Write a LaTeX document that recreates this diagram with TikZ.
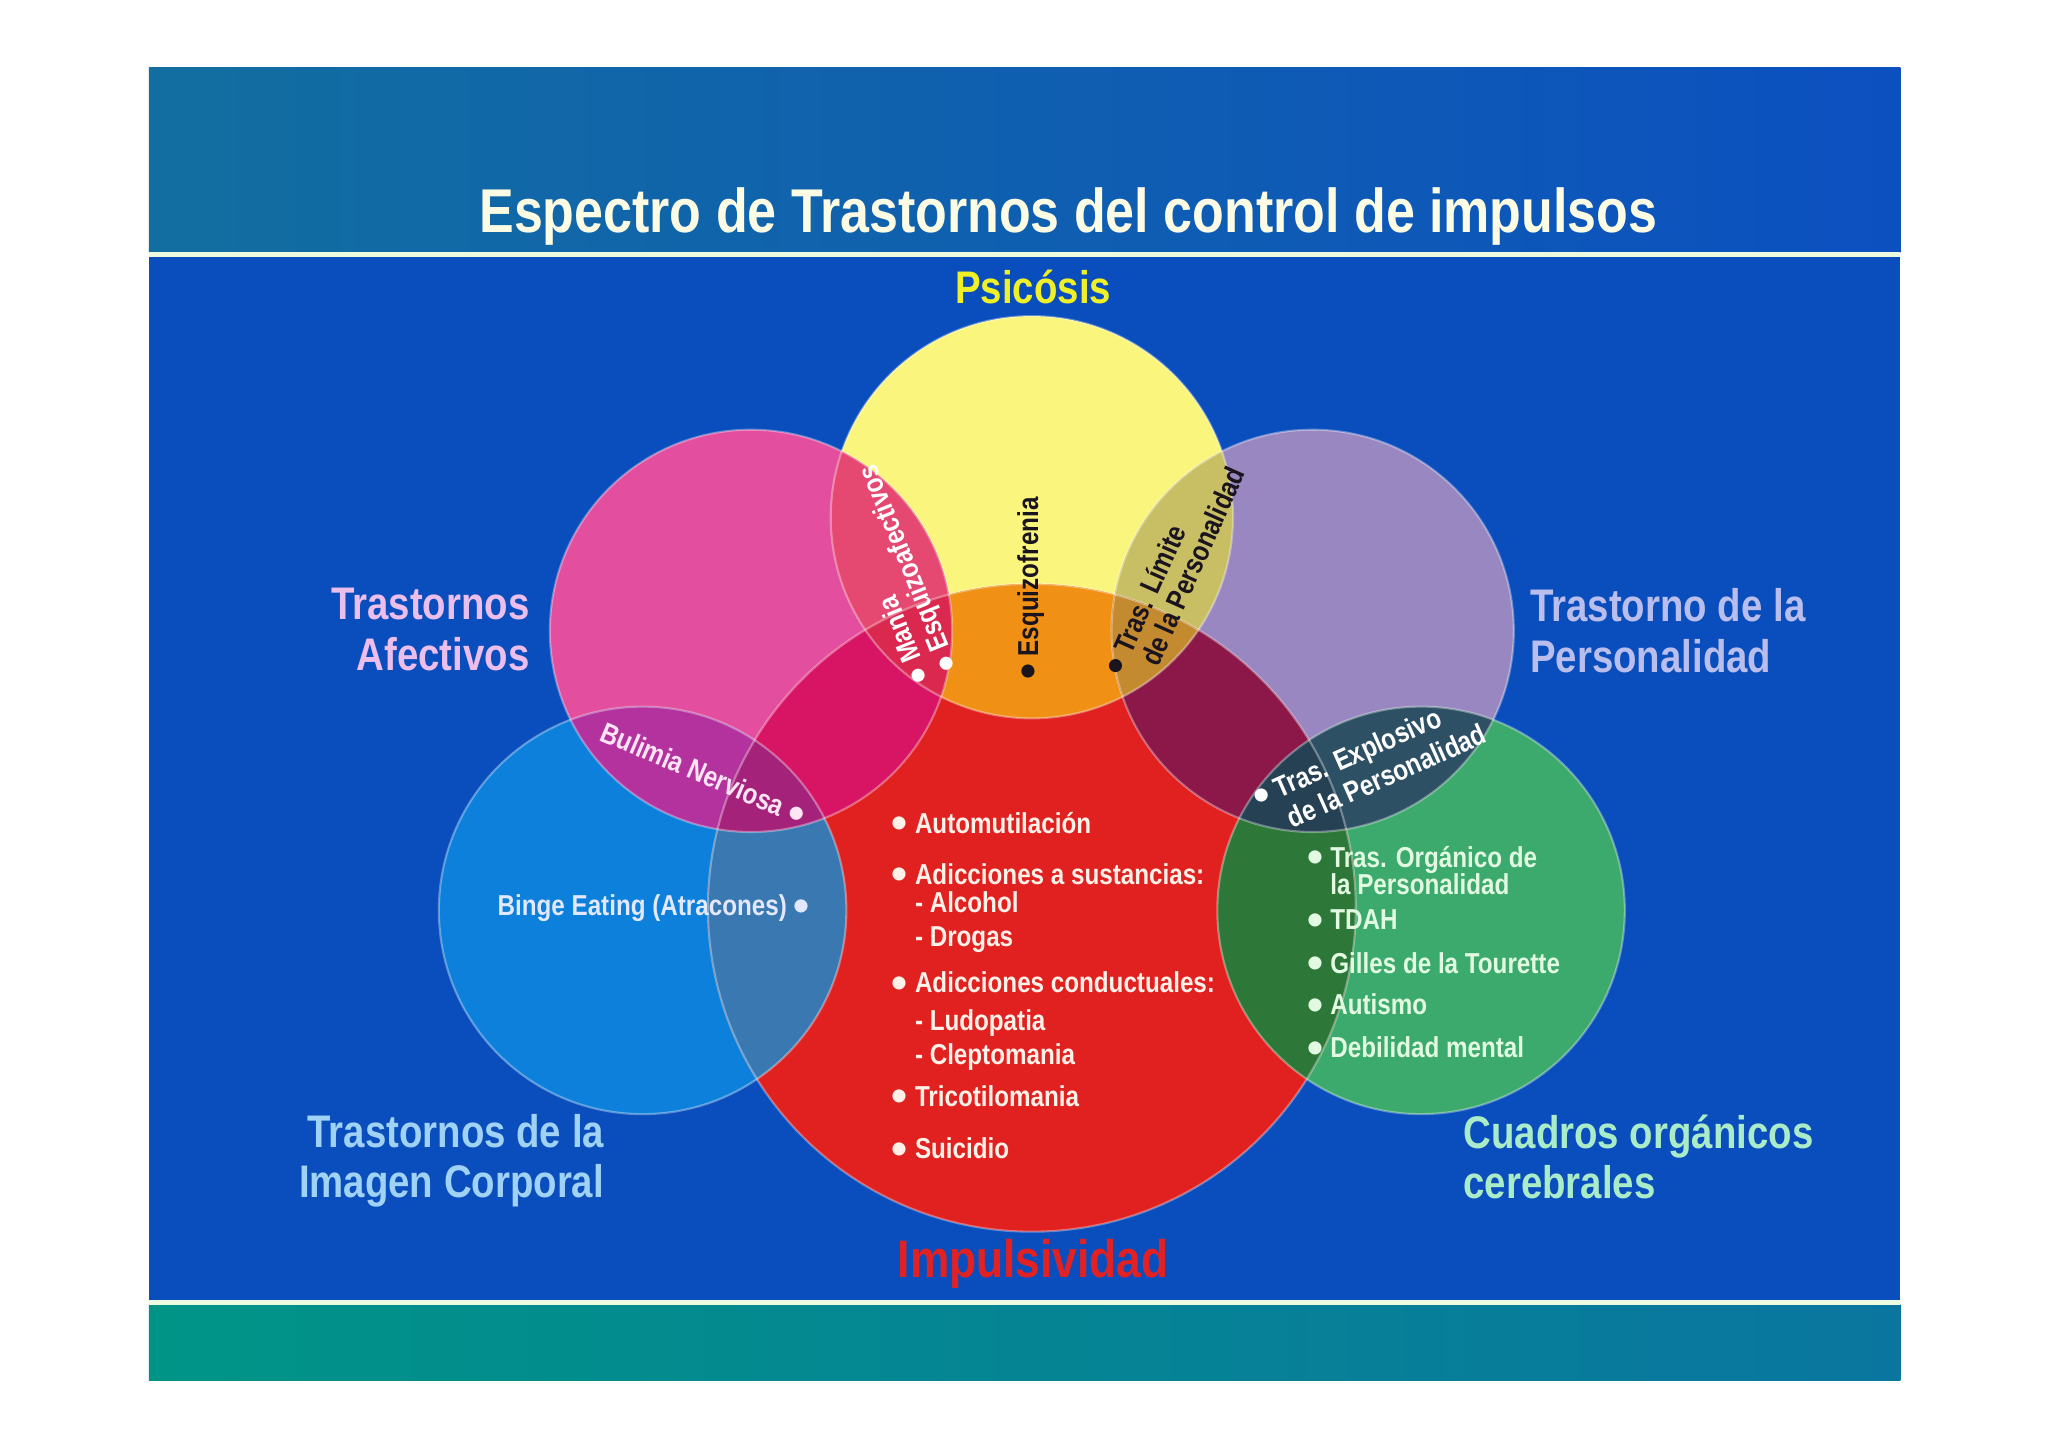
\documentclass[tikz,border=0pt]{standalone}
\usepackage{fontspec}
\setmainfont{Liberation Sans}
\newfontfamily\narrow[FakeStretch=0.84]{Liberation Sans}
\newfontfamily\bulfont{Liberation Sans}
\usetikzlibrary{
	math,
	% positioning,
}
% slide
\definecolor{slideblue}{RGB}{10,78,190}
\definecolor{headteal}{RGB}{18,110,160}
\definecolor{headblue}{RGB}{12,80,192}
\definecolor{footteal}{RGB}{0,148,135}
\definecolor{footblue}{RGB}{10,118,160}
\definecolor{paleline}{RGB}{236,250,222}
% discs
\definecolor{cyel}{RGB}{250,245,125}
\definecolor{cpink}{RGB}{228,78,158}
\definecolor{clav}{RGB}{152,135,192}
\definecolor{cblue}{RGB}{12,128,218}
\definecolor{cgreen}{RGB}{60,170,108}
\definecolor{cred}{RGB}{225,32,32}
% overlaps
\definecolor{cyelpink}{RGB}{229,72,112}
\definecolor{cyellav}{RGB}{200,190,100}
\definecolor{cyelred}{RGB}{240,145,22}
\definecolor{cpinkred}{RGB}{216,20,100}
\definecolor{clavred}{RGB}{140,24,74}
\definecolor{cbluered}{RGB}{58,120,178}
\definecolor{cgreenred}{RGB}{45,120,56}
\definecolor{cbluepink}{RGB}{180,50,158}
\definecolor{cgreenlav}{RGB}{45,80,100}
\definecolor{cyelpinkred}{RGB}{218,40,78}
\definecolor{cyellavred}{RGB}{196,138,48}
\definecolor{cbluepinkred}{RGB}{165,34,122}
\definecolor{cgreenlavred}{RGB}{38,64,84}
% texts
\definecolor{titlewhite}{RGB}{252,252,228}
\definecolor{psiyellow}{RGB}{240,240,40}
\definecolor{impred}{RGB}{226,34,34}
\definecolor{afecolor}{RGB}{236,190,236}
\definecolor{percolor}{RGB}{186,190,236}
\definecolor{imacolor}{RGB}{160,210,245}
\definecolor{orgcolor}{RGB}{170,235,200}
\definecolor{redtext}{RGB}{255,240,232}
\definecolor{orgtext}{RGB}{226,250,226}
\definecolor{imatext}{RGB}{226,232,255}
\definecolor{bultext}{RGB}{255,228,245}
\definecolor{darktext}{RGB}{25,20,30}

\tikzstyle{biglabel} = [font=\narrow\bfseries\fontsize{13}{14.5}\selectfont, inner sep=0pt]
\tikzstyle{item} = [font=\narrow\bfseries\fontsize{8.2}{9}\selectfont, anchor=base west, inner sep=0pt]
\tikzstyle{rim} = [draw=white, draw opacity=0.35, line width=0.6pt]

\newcommand{\bul}{\llap{\raisebox{-1.6pt}{\bulfont\fontsize{13}{0}\selectfont •}\hspace{2pt}}}
\newcommand{\bulr}{\rlap{\hspace{2pt}\raisebox{-1.6pt}{\bulfont\fontsize{13}{0}\selectfont •}}}

\begin{document}
\begin{tikzpicture}[x=0.1306mm, y=0.1306mm]
	\useasboundingbox (0,0) rectangle (1568,-1108);
	\fill[white] (0,0) rectangle (1568,-1108);

	% slide background
	\fill[slideblue] (114,-52) rectangle (1455,-1057);
	\shade[left color=headteal, right color=headblue] (114,-52) rectangle (1455,-193);
	\shade[left color=footteal, right color=footblue] (114,-999) rectangle (1455,-1057);
	\fill[paleline] (114,-193) rectangle (1455,-197);
	\fill[paleline] (114,-995) rectangle (1455,-999);

	% circle centres
	\coordinate (psi) at (790,-396);
	\coordinate (afe) at (575,-483);
	\coordinate (per) at (1005,-483);
	\coordinate (ima) at (492,-697);
	\coordinate (org) at (1088,-697);
	\coordinate (imp) at (790,-695);
	\def\rs{154}
	\def\rl{156}
	\def\rb{248}

	% discs
	\fill[cyel] (psi) circle[radius=\rs];
	\fill[cpink] (afe) circle[radius=\rs];
	\fill[clav] (per) circle[radius=\rs];
	\fill[cblue] (ima) circle[radius=\rl];
	\fill[cgreen] (org) circle[radius=\rl];
	\fill[cred] (imp) circle[radius=\rb];

	% two-way overlaps
	\begin{scope}
		\clip (psi) circle[radius=\rs];
		\fill[cyelpink] (afe) circle[radius=\rs];
		\fill[cyellav] (per) circle[radius=\rs];
		\fill[cyelred] (imp) circle[radius=\rb];
	\end{scope}
	\begin{scope}
		\clip (imp) circle[radius=\rb];
		\fill[cpinkred] (afe) circle[radius=\rs];
		\fill[clavred] (per) circle[radius=\rs];
		\fill[cbluered] (ima) circle[radius=\rl];
		\fill[cgreenred] (org) circle[radius=\rl];
	\end{scope}
	\begin{scope}
		\clip (afe) circle[radius=\rs];
		\fill[cbluepink] (ima) circle[radius=\rl];
	\end{scope}
	\begin{scope}
		\clip (per) circle[radius=\rs];
		\fill[cgreenlav] (org) circle[radius=\rl];
	\end{scope}

	% three-way overlaps
	\begin{scope}
		\clip (imp) circle[radius=\rb];
		\clip (psi) circle[radius=\rs];
		\fill[cyelpinkred] (afe) circle[radius=\rs];
		\fill[cyellavred] (per) circle[radius=\rs];
	\end{scope}
	\begin{scope}
		\clip (imp) circle[radius=\rb];
		\clip (afe) circle[radius=\rs];
		\fill[cbluepinkred] (ima) circle[radius=\rl];
	\end{scope}
	\begin{scope}
		\clip (imp) circle[radius=\rb];
		\clip (per) circle[radius=\rs];
		\fill[cgreenlavred] (org) circle[radius=\rl];
	\end{scope}

	% rims
	\draw[rim] (psi) circle[radius=\rs];
	\draw[rim] (afe) circle[radius=\rs];
	\draw[rim] (per) circle[radius=\rs];
	\draw[rim] (ima) circle[radius=\rl];
	\draw[rim] (org) circle[radius=\rl];
	\draw[rim] (imp) circle[radius=\rb];

	% titles
	\node[font=\narrow\bfseries\fontsize{17.6}{20}\selectfont, text=titlewhite, anchor=base] (title) at (818,-178) {Espectro de Trastornos del control de impulsos};
	\node[biglabel, text=psiyellow, anchor=base] (psicosis) at (791,-232) {Psicósis};
	\node[biglabel, font=\narrow\bfseries\fontsize{15}{17}\selectfont, text=impred, anchor=base] (impulsividad) at (791,-978) {Impulsividad};
	\node[biglabel, text=afecolor, align=right, anchor=east] (afectivos) at (406,-482) {Trastornos\\Afectivos};
	\node[biglabel, text=percolor, align=left, anchor=west] (personalidad) at (1171,-483) {Trastorno de la\\Personalidad};
	\node[biglabel, font=\narrow\bfseries\fontsize{13}{14.2}\selectfont, text=imacolor, align=right, anchor=east] (imagen) at (463,-889) {Trastornos de la\\Imagen Corporal};
	\node[biglabel, font=\narrow\bfseries\fontsize{13}{14.2}\selectfont, text=orgcolor, align=left, anchor=west] (cuadros) at (1120,-886) {Cuadros orgánicos\\cerebrales};

	% impulsividad list
	\foreach \ypos/\txt [count=\i] in {638/{\bul Automutilación}, 677/{\bul Adicciones a sustancias:}, 699/{- Alcohol}, 725/{- Drogas}, 760/{\bul Adicciones conductuales:}, 789/{- Ludopatia}, 815/{- Cleptomania}, 847/{\bul Tricotilomania}, 887/{\bul Suicidio}} {
			\node[item, text=redtext] (red\i) at (700,-\ypos) {\txt};
		}

	% organic list
	\foreach \ypos/\txt [count=\i] in {664/{\bul Tras. Orgánico de}, 685/{la Personalidad}, 712/{\bul TDAH}, 745/{\bul Gilles de la Tourette}, 777/{\bul Autismo}, 810/{\bul Debilidad mental}} {
			\node[item, text=orgtext] (org\i) at (1018,-\ypos) {\txt};
		}

	% overlap labels
	\node[item, anchor=base east, text=imatext] (binge) at (603,-701) {Binge Eating (Atracones)\bulr};
	\node[item, anchor=west, rotate=-23, text=bultext] (bulimia) at (460,-561) {Bulimia Nerviosa\bulr};
	\node[item, anchor=west, rotate=90, text=darktext] (esquizofrenia) at (789,-503) {\bul Esquizofrenia};
	\node[item, anchor=west, rotate=112, align=left, text=white, font=\narrow\bfseries\fontsize{8.2}{7.5}\selectfont] (mania) at (711,-502) {\bul Mania\\\bul Esquizoafectivos};
	\node[item, anchor=west, rotate=66, align=left, text=darktext, font=\narrow\bfseries\fontsize{8.2}{7.5}\selectfont] (limite) at (869,-504) {\bul Tras. Límite\\de la Personalidad};
	\node[item, anchor=west, rotate=24, align=left, text=white, font=\narrow\bfseries\fontsize{8.2}{9.5}\selectfont] (explosivo) at (981,-616) {\bul Tras. Explosivo\\de la Personalidad};

\end{tikzpicture}
\end{document}
